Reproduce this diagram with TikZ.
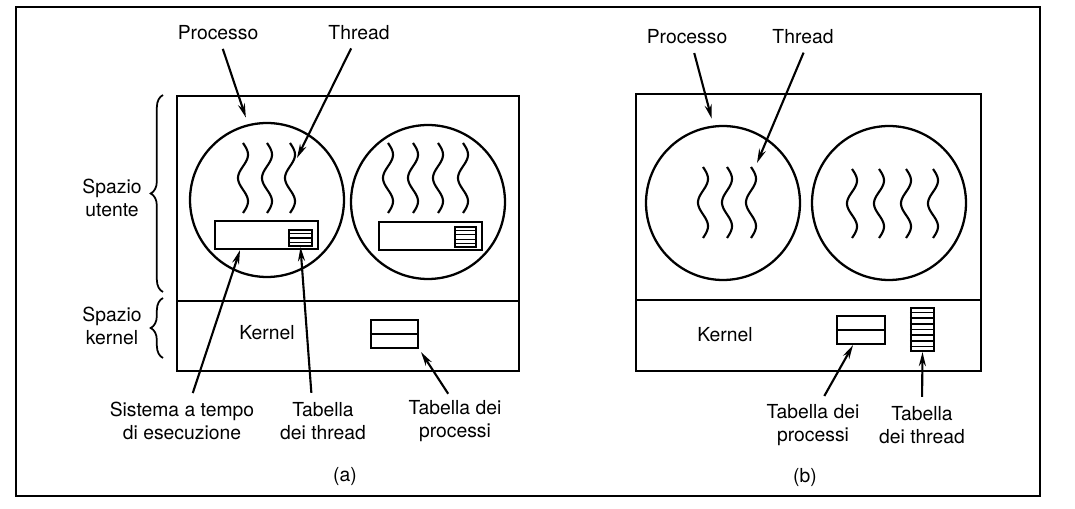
\documentclass[tikz,border=0pt]{standalone}
\usepackage{fontspec}
\setmainfont{TeX Gyre Heros}
\usetikzlibrary{arrows.meta, positioning, decorations.pathreplacing, calc}

\begin{document}
\begin{tikzpicture}[x=0.02cm, y=-0.02cm, font=\fontsize{11}{13.5}\selectfont,
		every node/.style={inner sep=0pt},
		box/.style={draw, line width=1.3pt},
		proc/.style={circle, draw, line width=1.3pt, minimum size=3.08cm},
		lbl/.style={align=center},
		ptr/.style={-{Stealth[length=8pt, width=4pt]}, line width=1.2pt},
		wig/.style={line width=1.2pt},
		brc/.style={decorate, decoration={brace, amplitude=7pt}, line width=1pt}]
		\useasboundingbox (0,0) rectangle (1075,509);
		\draw[line width=1.6pt] (16,7) rectangle (1040,496);

		% (a) thread a livello utente
		\node[box, anchor=north west, minimum width=6.84cm, minimum height=4.1cm] (ua) at (176,95) {};
		\node[box, anchor=north west, minimum width=6.84cm, minimum height=1.4cm] (ka) at (176,300) {};
		\node[proc] (pa1) at (267,200) {};
		\node[proc] (pa2) at (428,202) {};
		\foreach \t in {243,267,290}
		  \draw[wig] plot[variable=\u, domain=0:540, samples=40, smooth] ({\t+5*sin(\u)}, {143+\u/540*70});
		\foreach \t in {388,413,438,463}
		  \draw[wig] plot[variable=\u, domain=0:540, samples=40, smooth] ({\t+5*sin(\u)}, {143+\u/540*70});
		\node[box, minimum width=2.06cm, minimum height=0.56cm] (rta1) at (266.5,235) {};
		\node[box, minimum width=0.46cm, minimum height=0.32cm] (tta1) at (300.5,238) {};
		\node[box, minimum width=2.06cm, minimum height=0.56cm] (rta2) at (430.5,236) {};
		\node[box, minimum width=0.42cm, minimum height=0.40cm] (tta2) at (465.5,237) {};
		\foreach \s in {1,2,3}
		  \draw[line width=0.8pt] ($(tta1.north west)!\s/4!(tta1.south west)$) -- ($(tta1.north east)!\s/4!(tta1.south east)$);
		\foreach \s in {1,2,3,4}
		  \draw[line width=0.8pt] ($(tta2.north west)!\s/5!(tta2.south west)$) -- ($(tta2.north east)!\s/5!(tta2.south east)$);
		\node (kera) at (267,333) {Kernel};
		\node[box, minimum width=0.94cm, minimum height=0.56cm] (pta) at (394.5,334) {};
		\draw[line width=1.3pt] (pta.west) -- (pta.east);

		\draw[brc] (163,292) -- (163,95);
		\draw[brc] (163,358) -- (163,298);
		\node[lbl] (sua) at (112,198) {Spazio\\utente};
		\node[lbl] (ska) at (112,326) {Spazio\\kernel};

		\node (pra) at (218,33) {Processo};
		\node (tra) at (359,33) {Thread};
		\coordinate (tha) at (297,158);
		\draw[ptr, shorten <=5pt, shorten >=4pt] ([xshift=0.04cm]pra.south) -- (pa1.104);
		\draw[ptr, shorten <=5pt] ([xshift=-0.08cm]tra.south) -- (tha);

		\node[lbl] (sea) at (182,421) {Sistema a tempo\\di esecuzione};
		\node[lbl] (tdta) at (323,421) {Tabella\\dei thread};
		\node[lbl] (tpa) at (455,421) {Tabella dei\\processi};
		\draw[ptr, shorten <=5pt] ([xshift=0.16cm]sea.north) -- ([xshift=-0.53cm]rta1.south);
		\draw[ptr, shorten <=5pt] ([xshift=-0.22cm]tdta.north) -- (tta1.south);
		\draw[ptr, shorten <=4pt, shorten >=2pt] ([xshift=-0.06cm]tpa.north) -- (pta.south east);
		\node (capa) at (345,477) {(a)};

		% (b) thread gestiti dal kernel
		\node[box, anchor=north west, minimum width=6.9cm, minimum height=4.12cm] (ub) at (635,93) {};
		\node[box, anchor=north west, minimum width=6.9cm, minimum height=1.42cm] (kb) at (635,299) {};
		\node[proc] (pb1) at (723,203) {};
		\node[proc] (pb2) at (889,203) {};
		\foreach \t in {703,727,751}
		  \draw[wig] plot[variable=\u, domain=0:540, samples=40, smooth] ({\t+5*sin(\u)}, {167+\u/540*71});
		\foreach \t in {852,879,906,933}
		  \draw[wig] plot[variable=\u, domain=0:540, samples=40, smooth] ({\t+5*sin(\u)}, {169+\u/540*69});
		\node (kerb) at (725,335) {Kernel};
		\node[box, minimum width=0.96cm, minimum height=0.56cm] (ptb) at (861,330) {};
		\draw[line width=1.3pt] (ptb.west) -- (ptb.east);
		\node[box, minimum width=0.46cm, minimum height=0.86cm] (ttb) at (922.5,329.5) {};
		\foreach \s in {1,...,7}
		  \draw[line width=0.8pt] ($(ttb.north west)!\s/8!(ttb.south west)$) -- ($(ttb.north east)!\s/8!(ttb.south east)$);

		\node (prb) at (687,37) {Processo};
		\node (trb) at (803,37) {Thread};
		\coordinate (thb) at (757,163);
		\draw[ptr, shorten <=5pt, shorten >=4pt] ([xshift=0.1cm]prb.south) -- (pb1.97);
		\draw[ptr, shorten <=5pt] ([xshift=0.08cm]trb.south) -- (thb);

		\node[lbl] (tpb) at (813,425) {Tabella dei\\processi};
		\node[lbl] (ttbl) at (922,425) {Tabella\\dei thread};
		\draw[ptr, shorten <=5pt] ([xshift=0.14cm]tpb.north) -- ([xshift=-0.16cm]ptb.south);
		\draw[ptr, shorten <=5pt] (ttbl.north) -- (ttb.south);
		\node (capb) at (805,478) {(b)};
	\end{tikzpicture}
\end{document}
